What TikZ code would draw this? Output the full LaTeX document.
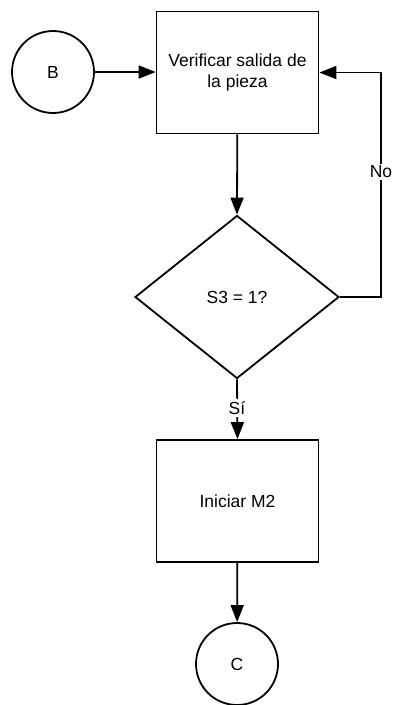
\documentclass[tikz,border=0pt]{standalone}
\usepackage{fontspec}
\setmainfont{Liberation Sans}
\usetikzlibrary{shapes.geometric,arrows.meta}
\begin{document}
\begin{tikzpicture}[x=1pt,y=-1pt,
  every node/.style={font=\fontsize{17.5}{20.5}\selectfont},
  line/.style={line width=1.8pt},
  proc/.style={draw,line width=1.8pt,minimum width=162pt,minimum height=122pt,inner sep=0pt,align=center},
  conn/.style={draw,circle,line width=1.8pt,minimum size=82pt,inner sep=0pt},
  decis/.style={draw,diamond,line width=1.8pt,minimum width=204pt,minimum height=163pt,inner sep=0pt},
  arr/.style={line width=1.8pt,-{Triangle[length=17pt,width=13pt]}},
  lbl/.style={fill=white,inner sep=2pt}]
\useasboundingbox (0,0) rectangle (394,705);
\node[conn] (B) at (53,72) {B};
\node[proc] (P1) at (237.5,72.5) {Verificar salida de\\la pieza};
\node[decis] (D) at (237,297) {S3 = 1?};
\node[proc] (P2) at (237.5,501) {Iniciar M2};
\node[conn] (C) at (237,664) {C};
\coordinate (R) at (381,297);
\coordinate (RT) at (381,72.5);
\draw[arr] (B) -- (P1.west |- B);
\draw[arr] (P1) -- (D.north);
\draw[arr] (D.east) -- (R) -- (RT) -- (P1.east);
\node[lbl] at (381,172) {No};
\draw[arr] (D.south) -- (P2.north);
\node[lbl] at (237,408) {Sí};
\draw[arr] (P2) -- (C);
\end{tikzpicture}
\end{document}
